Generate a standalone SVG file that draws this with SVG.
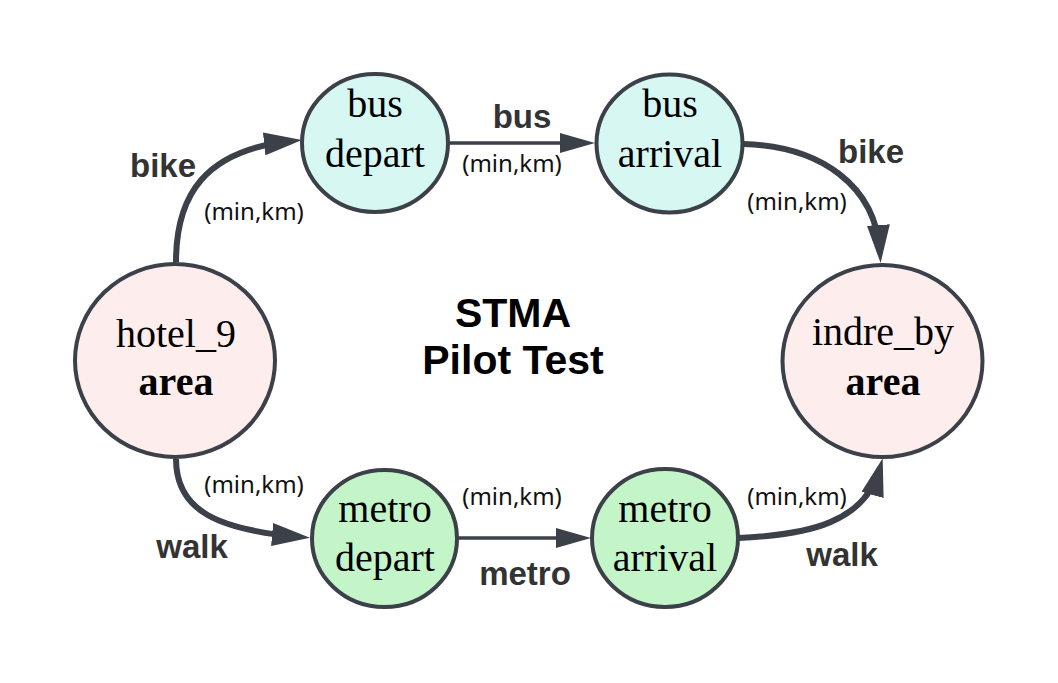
<svg xmlns="http://www.w3.org/2000/svg" width="1058" height="683" viewBox="0 0 1058 683">
<style>
.node{stroke:#3b4049;stroke-width:4}
.area{fill:#fdeeed}
.bus{fill:#d7f8f2}
.metro{fill:#c3f5c8}
.nt{font-family:"Liberation Serif","Times New Roman",serif;font-size:40px;fill:#000;text-anchor:middle}
.b{font-weight:bold}
.edge{fill:none;stroke:#3b4049}
.thick{stroke-width:6}
.thin{stroke-width:3.5}
.lbl{font-family:"Liberation Sans",Arial,sans-serif;font-weight:bold;font-size:33px;fill:#333;text-anchor:middle}
.sub{font-family:"Noto Sans","Open Sans",sans-serif;font-size:24px;fill:#111;text-anchor:middle}
.title{font-family:"Liberation Sans",Arial,sans-serif;font-weight:bold;font-size:41px;fill:#000;text-anchor:middle}
</style>
<defs>
<marker id="ah" viewBox="0 0 38 23" refX="28" refY="11.5" markerWidth="38" markerHeight="23" markerUnits="userSpaceOnUse" orient="auto">
<path d="M0,0 L38,11.5 L0,23 Z" fill="#3b4049"/>
</marker>
<marker id="ahs" viewBox="0 0 35 20" refX="27" refY="10" markerWidth="35" markerHeight="20" markerUnits="userSpaceOnUse" orient="auto">
<path d="M0,0 L35,10 L0,20 Z" fill="#3b4049"/>
</marker>
</defs>
<rect width="1058" height="683" fill="#fff"/>
<g id="connectors">
<path class="edge thick" d="M176,262 C176,195 205,150 292,141" marker-end="url(#ah)"/>
<path class="edge thin" d="M448,143 L587,143" marker-end="url(#ahs)"/>
<path class="edge thick" d="M743,144 C820,146 876,185 880,253" marker-end="url(#ah)"/>
<path class="edge thick" d="M176,459 C176,512 220,530 300,537" marker-end="url(#ah)"/>
<path class="edge thin" d="M457,538 L583,538" marker-end="url(#ahs)"/>
<path class="edge thick" d="M738,538 C810,535 865,522 880,468" marker-end="url(#ah)"/>
</g>
<g id="labels">
<text class="lbl" x="163" y="177">bike</text>
<text class="sub" x="254" y="220">(min,km)</text>
<text class="lbl" x="522" y="128">bus</text>
<text class="sub" x="512" y="172">(min,km)</text>
<text class="lbl" x="871" y="163">bike</text>
<text class="sub" x="797" y="210">(min,km)</text>
<text class="sub" x="254" y="493">(min,km)</text>
<text class="lbl" x="192" y="558">walk</text>
<text class="sub" x="512" y="505">(min,km)</text>
<text class="lbl" x="525" y="585">metro</text>
<text class="sub" x="797" y="505">(min,km)</text>
<text class="lbl" x="842" y="566">walk</text>
</g>
<g id="title">
<text class="title" x="513" y="327">STMA</text>
<text class="title" x="513" y="374">Pilot Test</text>
</g>
<g id="hotel_9">
<ellipse class="node area" cx="175" cy="360.5" rx="100" ry="96.5"/>
<text class="nt" x="176" y="347">hotel_9</text>
<text class="nt b" x="176" y="395">area</text>
</g>
<g id="indre_by">
<ellipse class="node area" cx="882.5" cy="361" rx="100" ry="96"/>
<text class="nt" x="883" y="345">indre_by</text>
<text class="nt b" x="883" y="395">area</text>
</g>
<g id="bus_depart">
<ellipse class="node bus" cx="375" cy="143" rx="73" ry="69"/>
<text class="nt" x="375" y="117">bus</text>
<text class="nt" x="375" y="167">depart</text>
</g>
<g id="bus_arrival">
<ellipse class="node bus" cx="669.5" cy="143.5" rx="73" ry="69"/>
<text class="nt" x="670" y="117">bus</text>
<text class="nt" x="670" y="167">arrival</text>
</g>
<g id="metro_depart">
<ellipse class="node metro" cx="384.5" cy="538.5" rx="72.5" ry="68.5"/>
<text class="nt" x="385" y="522">metro</text>
<text class="nt" x="385" y="571">depart</text>
</g>
<g id="metro_arrival">
<ellipse class="node metro" cx="665" cy="538" rx="73" ry="69"/>
<text class="nt" x="665" y="522">metro</text>
<text class="nt" x="665" y="571">arrival</text>
</g>
</svg>
